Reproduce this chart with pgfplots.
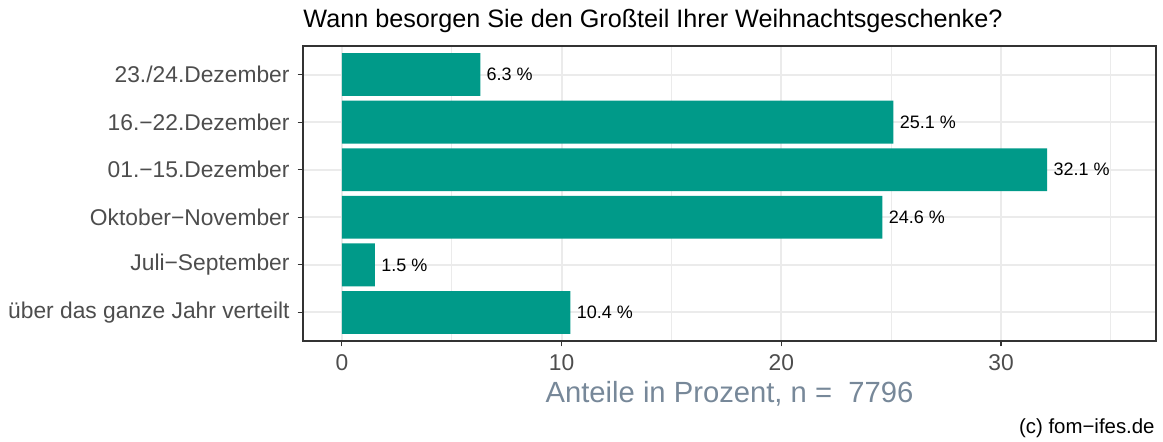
\documentclass[border=0pt]{standalone}
\usepackage{fontspec}
\setmainfont{Liberation Sans}
\usepackage{pgfplots}
\pgfplotsset{compat=1.18}
\definecolor{barteal}{RGB}{0,154,137}
\definecolor{gridgray}{RGB}{235,235,235}
\definecolor{ticktext}{RGB}{77,77,77}
\definecolor{frame}{RGB}{51,51,51}
\definecolor{slate}{RGB}{119,136,153}

\begin{document}
\begin{tikzpicture}
  % page is 1163x441 px at 0.5pt per px
  \path[use as bounding box] (0,0) rectangle (581.5pt,220.5pt);
  \begin{axis}[
    at={(151.5pt,50pt)}, anchor=south west,
    scale only axis,
    width=426.5pt, height=147.5pt,
    xbar,
    bar width=0.9,
    xmin=-1.77, xmax=37.05,
    ymin=-0.6, ymax=5.6,
    xtick={0,10,20,30},
    minor xtick={5,15,25,35},
    ytick={0,1,2,3,4,5},
    yticklabels={über das ganze Jahr verteilt, Juli−September, Oktober−November,
                 01.−15.Dezember, 16.−22.Dezember, 23./24.Dezember},
    xmajorgrids, xminorgrids, ymajorgrids,
    major grid style={draw=gridgray, line width=1pt},
    minor grid style={draw=gridgray, line width=0.5pt},
    tick align=outside,
    major tick length=2.7pt,
    minor tick length=0pt,
    tick style={draw=frame, line width=0.6pt},
    axis line style={draw=frame, line width=0.6pt},
    xtick pos=bottom, ytick pos=left,
    tick label style={text=ticktext, font=\fontsize{11.4}{13}\selectfont},
    /pgf/number format/assume math mode=true,
    yticklabel style={xshift=-0.5pt},
    xticklabel style={yshift=-0.5pt},
    nodes near coords,
    point meta=explicit symbolic,
    every node near coord/.append style={anchor=west, font=\fontsize{9}{11}\selectfont, text=black, inner sep=3pt},
  ]
    \addplot[fill=barteal, draw=none] coordinates {
      (10.4,0) [10.4 \%]
      (1.5,1)  [1.5 \%]
      (24.6,2) [24.6 \%]
      (32.1,3) [32.1 \%]
      (25.1,4) [25.1 \%]
      (6.3,5)  [6.3 \%]
    };
  \end{axis}
  \node[anchor=base west, font=\fontsize{12.6}{15}\selectfont, inner sep=0pt] at (151.5pt,207pt)
    {Wann besorgen Sie den Großteil Ihrer Weihnachtsgeschenke?};
  \node[anchor=base, font=\fontsize{14.6}{17}\selectfont, text=slate, inner sep=0pt] at (364.75pt,19.5pt)
    {Anteile in Prozent, n =\ \ 7796};
  \node[anchor=base east, font=\fontsize{10.2}{12}\selectfont, inner sep=0pt] at (577.5pt,4pt)
    {(c) fom−ifes.de};
\end{tikzpicture}
\end{document}
